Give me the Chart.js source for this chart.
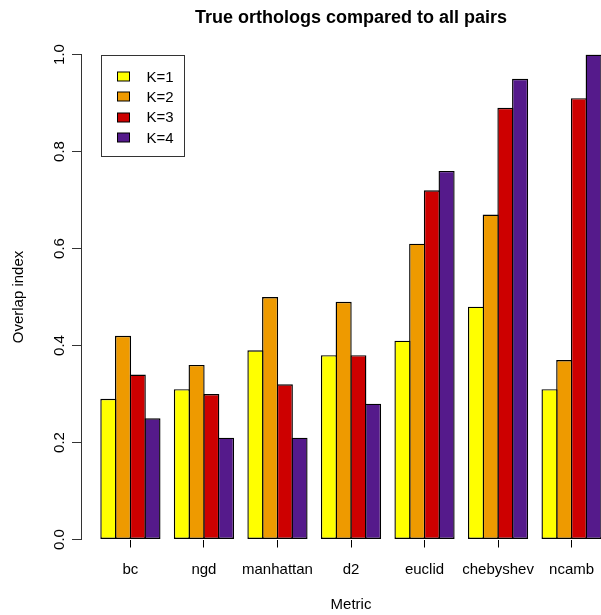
<!DOCTYPE html>
<html>
<head>
<meta charset="utf-8">
<title>True orthologs compared to all pairs</title>
<script src="https://cdn.jsdelivr.net/npm/chart.js@4/dist/chart.umd.min.js"></script>
<style>
  html, body { margin: 0; padding: 0; background: #fff; overflow: hidden; }
  #wrap { width: 601px; height: 615px; overflow: hidden; position: relative; }
  canvas { display: block; }
</style>
</head>
<body>
<div id="wrap"><canvas id="chart" width="621" height="615"></canvas></div>
<script>
// Overlap index of true orthologs vs. all pairs, per distance metric and K
const categories = ['bc', 'ngd', 'manhattan', 'd2', 'euclid', 'chebyshev', 'ncamb'];
const seriesNames = ['K=1', 'K=2', 'K=3', 'K=4'];
const k1 = [0.29, 0.31, 0.39, 0.38, 0.41, 0.48, 0.31];
const k2 = [0.42, 0.36, 0.50, 0.49, 0.61, 0.67, 0.37];
const k3 = [0.34, 0.30, 0.32, 0.38, 0.72, 0.89, 0.91];
const k4 = [0.25, 0.21, 0.21, 0.28, 0.76, 0.95, 1.00];
const yTicks = [0, 0.2, 0.4, 0.6, 0.8, 1.0];

const seriesValues = [k1, k2, k3, k4];
const seriesColors = ['#FFFF00', '#EE9A00', '#CD0000', '#551A8B'];

const FONT = "'Liberation Sans', Arial, Helvetica, sans-serif";
Chart.defaults.color = '#000';
Chart.defaults.font.family = FONT;

// Group layout: 4 bars per metric, one bar-width gap between groups.
const GROUP_FRAC = 0.8;
const firstLeft = 1 - GROUP_FRAC / 2;
const lastRight = categories.length + GROUP_FRAC / 2;
const pad = 0.04 * (lastRight - firstLeft);
const EDGE = 1.4; // outline width; neighbouring bars overlap by this much so edges coincide

const datasets = seriesValues.map((vals, s) => ({
  label: seriesNames[s],
  data: vals.map((v, i) => ({ x: i + 1, y: v })),
  backgroundColor: seriesColors[s],
  borderColor: '#000',
  borderWidth: EDGE,
  borderSkipped: false,
  categoryPercentage: GROUP_FRAC,
  barPercentage: 1.095
}));

// Legend box with filled keys, anchored at the first bar / top of the value range.
const keyBox = {
  id: 'keyBox',
  afterDatasetsDraw(chart) {
    const { ctx, scales: { x, y } } = chart;
    const left = Math.round(x.getPixelForValue(firstLeft)) + 0.5;
    const top = Math.round(y.getPixelForValue(1)) + 0.5;
    const w = 83, h = 101;
    ctx.save();
    ctx.fillStyle = '#fff';
    ctx.fillRect(left, top, w, h);
    ctx.strokeStyle = '#333';
    ctx.lineWidth = 1;
    ctx.strokeRect(left, top, w, h);
    ctx.font = '15px ' + FONT;
    ctx.textBaseline = 'middle';
    ctx.textAlign = 'left';
    chart.data.datasets.forEach((ds, i) => {
      const cy = top + 21 + i * 20.3;
      ctx.fillStyle = ds.backgroundColor;
      ctx.fillRect(left + 16, Math.round(cy - 4.5), 12, 9);
      ctx.strokeStyle = '#000';
      ctx.strokeRect(left + 16, Math.round(cy - 4.5), 12, 9);
      ctx.fillStyle = '#000';
      ctx.fillText(ds.label, left + 45, cy + 1);
    });
    ctx.restore();
  }
};

new Chart(document.getElementById('chart'), {
  type: 'bar',
  data: { datasets },
  plugins: [keyBox],
  options: {
    responsive: false,
    animation: false,
    layout: { padding: 0 },
    plugins: {
      legend: { display: false },
      tooltip: { enabled: false },
      title: {
        display: true,
        text: 'True orthologs compared to all pairs',
        fullSize: false,
        color: '#000',
        font: { size: 18, weight: 'bold', family: FONT, lineHeight: 1.2 },
        padding: { top: 7, bottom: 25.9 }
      }
    },
    scales: {
      x: {
        type: 'linear',
        offset: false,
        min: firstLeft - pad,
        max: lastRight + pad,
        afterBuildTicks: (s) => { s.ticks = categories.map((_, i) => ({ value: i + 1 })); },
        afterFit: (s) => { s.height = 75.5; },
        grid: { display: true, offset: false, drawOnChartArea: false, drawTicks: true, tickLength: 8, color: '#000', lineWidth: 1 },
        border: { display: false },
        ticks: {
          autoSkip: false,
          maxRotation: 0,
          minRotation: 0,
          padding: 13,
          color: '#000',
          font: { size: 15, family: FONT },
          callback: (v) => categories[Math.round(v) - 1]
        },
        title: {
          display: true,
          text: 'Metric',
          color: '#000',
          font: { size: 15, family: FONT, lineHeight: 1.2 },
          padding: { top: 0, bottom: 1 }
        }
      },
      y: {
        min: 0,
        max: 1,
        afterBuildTicks: (s) => { s.ticks = yTicks.map(v => ({ value: v })); },
        afterFit: (s) => { s.width = 81; },
        grid: { display: true, drawOnChartArea: false, drawTicks: true, tickLength: 9, color: '#333', lineWidth: 1 },
        border: { display: true, color: '#333', width: 1 },
        ticks: {
          minRotation: 90,
          maxRotation: 90,
          crossAlign: 'center',
          padding: 2,
          color: '#000',
          font: { size: 15, family: FONT },
          callback: (v) => Number(v).toFixed(1)
        },
        title: {
          display: true,
          text: 'Overlap index',
          color: '#000',
          font: { size: 15, family: FONT, lineHeight: 1.2 },
          padding: { top: 10, bottom: 0 }
        }
      }
    }
  }
});
</script>
</body>
</html>
